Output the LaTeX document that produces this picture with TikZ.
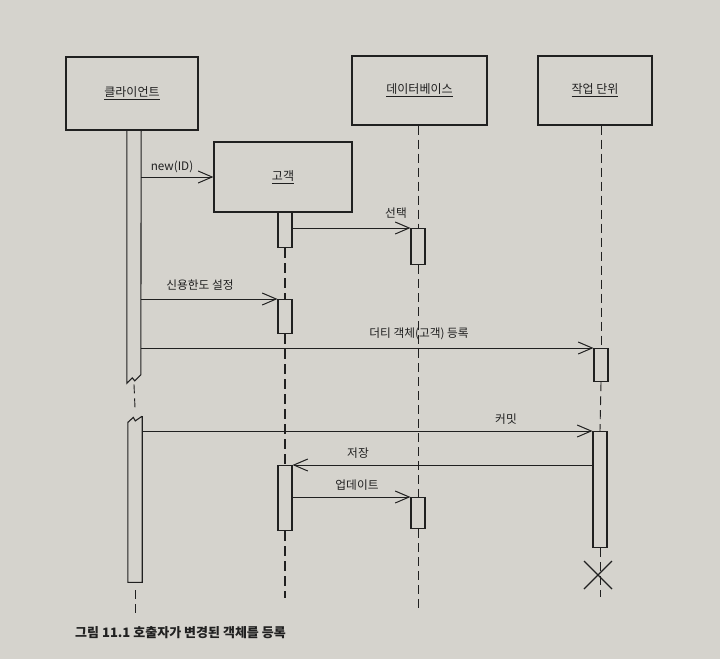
\documentclass[tikz,border=0pt]{standalone}
\usepackage{fontspec}
\setmainfont{Noto Sans CJK KR}
\usetikzlibrary{arrows.meta}
\definecolor{pagebg}{RGB}{213,211,205}
\definecolor{ink}{RGB}{32,32,32}
\begin{document}
\begin{tikzpicture}[x=1pt,y=-1pt,
  objbox/.style={draw=ink, line width=1.2pt, inner sep=0pt, text=ink, font=\fontsize{12}{14}\selectfont},
  bar/.style={draw=ink, line width=1.1pt, fill=pagebg, minimum width=14pt, inner sep=0pt, anchor=north},
  hbar/.style={draw=none, minimum width=14pt, inner sep=0pt, anchor=north},
  msg/.style={draw=ink, line width=1pt, -{Straight Barb[length=14pt,width=12pt,line width=1pt]}},
  life/.style={draw=ink, line width=0.9pt, dash pattern=on 9pt off 5pt},
  objlife/.style={draw=ink, line width=1.8pt, dash pattern=on 10pt off 5pt},
  lbl/.style={text=ink, inner sep=0pt, font=\fontsize{11.7}{13}\selectfont}]
\fill[pagebg] (0,0) rectangle (720,659);
\useasboundingbox (0,0) rectangle (720,659);

% object boxes
\node[objbox, minimum width=132pt, minimum height=73pt] (client) at (132,93.5) {\underline{클라이언트}};
\node[objbox, minimum width=138pt, minimum height=70pt] (cust) at (283,177) {\underline{고객}};
\node[objbox, minimum width=135pt, minimum height=69pt] (db) at (419.5,90.5) {\underline{데이터베이스}};
\node[objbox, minimum width=114pt, minimum height=69pt] (uow) at (595,90.5) {\underline{작업 단위}};

% client activation bars (with break)
\node[hbar, minimum height=253pt] (cbar1) at (134,130) {};
\node[hbar, minimum height=166pt] (cbar2) at (135,416) {};
\draw[ink, line width=1.1pt] (cbar1.north west) -- (cbar1.south west) -- ++(5.5,-5.5) -- ++(2.5,3) -- ++(6,-6) -- (cbar1.north east);
\draw[ink, line width=1.1pt] (cbar2.north east) -- (cbar2.south east) -- (cbar2.south west) -- ++(0,-160) -- ++(5.5,-5) -- ++(2,3.5) -- ++(6.5,-4.5);
\coordinate (cend) at (135,618);
\draw[life] ([yshift=-1pt]cbar1.south) -- ([yshift=8pt]cbar2.north);
\draw[life] (cbar2.south) ++(0,8) -- (cend);

% customer lifeline and bars
\node[bar, minimum height=35pt] (obar1) at (285,212) {};
\node[bar, minimum height=34pt] (obar2) at (285,299) {};
\node[bar, minimum height=65pt] (obar3) at (285,465) {};
\coordinate (oend) at (285,598);
\draw[objlife] (obar1.south) -- (obar2.north);
\draw[objlife] (obar2.south) -- (obar3.north);
\draw[objlife] (obar3.south) -- (oend);

% database lifeline and bars
\node[bar, minimum height=36pt] (dbar1) at (418,228) {};
\node[bar, minimum height=31pt] (dbar2) at (418,497) {};
\coordinate (dend) at (418,610);
\draw[life] (db.south -| dbar1.north) -- (dbar1.north);
\draw[life] (dbar1.south) -- (dbar2.north);
\draw[life] (dbar2.south) -- (dend);

% unit of work lifeline and bars
\node[bar, minimum height=33pt] (ubar1) at (601,348) {};
\node[bar, minimum height=116pt] (ubar2) at (600,431) {};
\coordinate (uend) at (600,597);
\draw[life] (uow.south -| ubar1.north) -- (ubar1.north);
\draw[life] (ubar1.south) -- (ubar2.north);
\draw[life] (ubar2.south) -- (uend);
% destruction mark
\coordinate (x1) at (584,561);
\coordinate (x2) at (612,589);
\coordinate (x3) at (612,561);
\coordinate (x4) at (584,589);
\draw[ink, line width=1.1pt] (x1) -- (x2);
\draw[ink, line width=1.1pt] (x3) -- (x4);

% messages
\draw[msg] (cbar1.east |- cust.west) -- (cust.west);
\node[lbl] (l1) at (172,167) {new(ID)};
\draw[msg] (obar1.east |- dbar1.north west) -- (dbar1.north west);
\node[lbl] (l2) at (396,213) {선택};
\draw[msg] (cbar1.east |- obar2.north west) -- (obar2.north west);
\node[lbl] (l3) at (200,285) {신용한도 설정};
\draw[msg] (cbar1.east |- ubar1.north west) -- (ubar1.north west);
\node[lbl] (l4) at (419,334) {더티 객체(고객) 등록};
\draw[msg] (cbar2.east |- ubar2.north west) -- (ubar2.north west);
\node[lbl] (l5) at (506,419) {커밋};
\draw[msg] (ubar2.west |- obar3.north east) -- (obar3.north east);
\node[lbl] (l6) at (358,453) {저장};
\draw[msg] (obar3.east |- dbar2.north west) -- (dbar2.north west);
\node[lbl] (l7) at (357,485) {업데이트};

% caption
\node[anchor=west, inner sep=0pt, text=ink, font=\fontsize{13}{15}\selectfont\bfseries] (cap) at (75,633) {그림 11.1 호출자가 변경된 객체를 등록};
\end{tikzpicture}
\end{document}
